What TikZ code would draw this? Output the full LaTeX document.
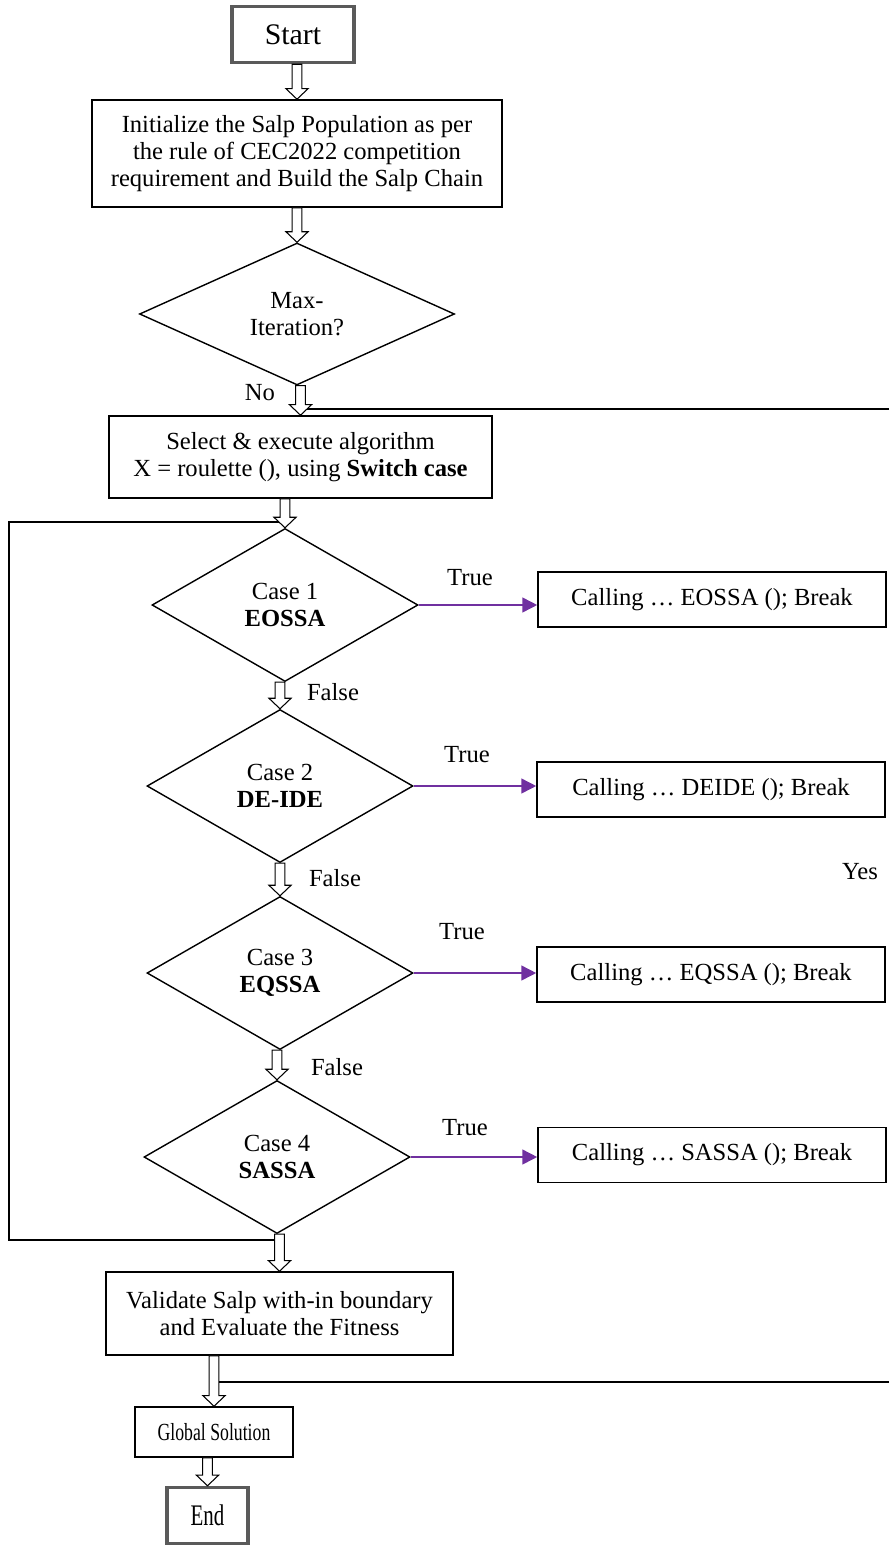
\documentclass[tikz,border=0pt]{standalone}
\usepackage{fontspec}
\setmainfont{Liberation Serif}
\usetikzlibrary{shapes.geometric,arrows.meta,calc}
\definecolor{callpurple}{RGB}{112,48,160}
\definecolor{termgray}{RGB}{90,90,90}

\newcommand{\hollowarrow}[2]{%
  \draw[hollow] let \p1=(#1.south), \p2=(#2.north) in
    (\x2-2.8pt,\y1) -- (\x2-2.8pt,\y2+6pt) -- (\x2-6.3pt,\y2+6pt) -- (\x2,\y2)
    -- (\x2+6.3pt,\y2+6pt) -- (\x2+2.8pt,\y2+6pt) -- (\x2+2.8pt,\y1) -- cycle;}

\begin{document}
\begin{tikzpicture}[
  font=\fontsize{14}{15.5}\selectfont,
  terminal/.style={draw=termgray, line width=2pt, minimum height=1.12cm, font=\fontsize{17}{20}\selectfont},
  process/.style={draw, line width=0.9pt, align=center, inner sep=0pt},
  decision/.style={draw, diamond, line width=0.8pt, align=center, inner sep=0pt, minimum width=5.32cm, minimum height=3.06cm},
  callbox/.style={draw, line width=0.9pt, minimum width=6.96cm, minimum height=1.1cm},
  hollow/.style={draw, fill=white, line width=0.6pt},
  linkline/.style={line width=0.6pt},
  truearrow/.style={draw=callpurple, line width=0.9pt, -{Triangle[length=8.5pt,width=8.5pt]}}
]
\useasboundingbox (0,0) rectangle (17.78,-30.9);

\node[terminal, minimum width=2.44cm] (start) at (5.86,-0.69) {Start};
\node[process, minimum width=8.2cm, minimum height=2.14cm] (init) at (5.94,-3.07) {Initialize the Salp Population as per\\the rule of CEC2022 competition\\requirement and Build the Salp Chain};
\node[decision, minimum width=6.3cm, minimum height=2.84cm] (maxit) at (5.94,-6.28) {Max-\\Iteration?};
\node[process, minimum width=7.66cm, minimum height=1.64cm] (select) at (6.01,-9.14) {Select \& execute algorithm\\X = roulette (), using \textbf{Switch case}};

\node[decision] (case1) at (5.70,-12.10) {Case 1\\\textbf{EOSSA}};
\node[decision] (case2) at (5.60,-15.72) {Case 2\\\textbf{DE-IDE}};
\node[decision] (case3) at (5.60,-19.46) {Case 3\\\textbf{EQSSA}};
\node[decision] (case4) at (5.54,-23.14) {Case 4\\\textbf{SASSA}};

\node[callbox] (call1) at (14.24,-11.99) {Calling … EOSSA (); Break};
\node[callbox] (call2) at (14.22,-15.79) {Calling … DEIDE (); Break};
\node[callbox] (call3) at (14.22,-19.49) {Calling … EQSSA (); Break};
\node[callbox] (call4) at (14.24,-23.10) {Calling … SASSA (); Break};

\node[process, minimum width=6.94cm, minimum height=1.66cm] (validate) at (5.59,-26.27) {Validate Salp with-in boundary\\and Evaluate the Fitness};
\node[process, minimum width=3.16cm, minimum height=1.0cm] (global) at (4.28,-28.64) {\scalebox{0.72}[1]{Global Solution}};
\node[terminal, minimum width=1.62cm] (end) at (4.15,-30.31) {\scalebox{0.7}[1]{End}};

\node (no) at (5.20,-7.86) {No};
\node (true1) at (9.40,-11.56) {True};
\node (true2) at (9.34,-15.10) {True};
\node (true3) at (9.24,-18.64) {True};
\node (true4) at (9.30,-22.56) {True};
\node (false1) at (6.66,-13.84) {False};
\node (false2) at (6.70,-17.56) {False};
\node (false3) at (6.74,-21.34) {False};
\node (yes) at (17.20,-17.44) {Yes};

\coordinate (yesin) at (17.78,-8.18);
\coordinate (yesout) at (17.78,-27.64);
\coordinate (looptop) at (0.18,-10.44);
\coordinate (loopbot) at (0.18,-24.80);

\draw[linkline, line width=1pt] (yesin) -- (yesin -| select.north);
\draw[linkline, line width=0.8pt] (yesout) -- (yesout -| global.north);
\draw[linkline] (loopbot -| validate.north) -- (loopbot) -- (looptop) -- (looptop -| case1.north);

\hollowarrow{start}{init}
\hollowarrow{init}{maxit}
\hollowarrow{maxit}{select}
\hollowarrow{select}{case1}
\hollowarrow{case1}{case2}
\hollowarrow{case2}{case3}
\hollowarrow{case3}{case4}
\hollowarrow{case4}{validate}
\hollowarrow{validate}{global}
\hollowarrow{global}{end}

\draw[truearrow] (case1.east) -- (case1.east -| call1.west);
\draw[truearrow] (case2.east) -- (case2.east -| call2.west);
\draw[truearrow] (case3.east) -- (case3.east -| call3.west);
\draw[truearrow] (case4.east) -- (case4.east -| call4.west);

\end{tikzpicture}
\end{document}
